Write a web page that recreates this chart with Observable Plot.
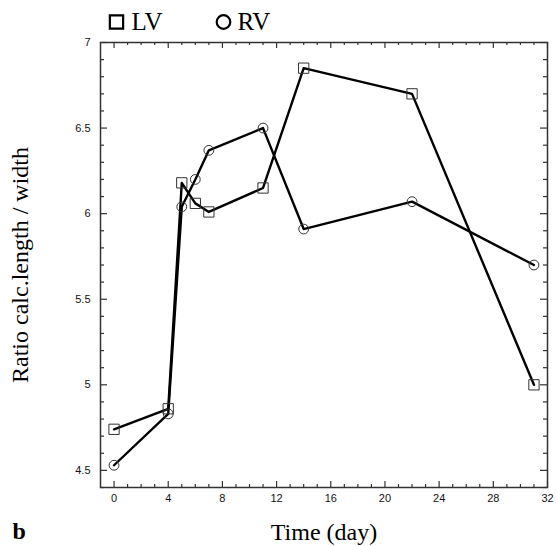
<!DOCTYPE html>
<html>
<head>
<meta charset="utf-8">
<script src="https://cdn.jsdelivr.net/npm/d3@7"></script>
<script src="https://cdn.jsdelivr.net/npm/@observablehq/plot@0.6"></script>
<style>
  html, body { margin: 0; padding: 0; background: #fff; }
  #chart svg { display: block; }
</style>
</head>
<body>
<div id="chart"></div>
<script>
// Data
const days = [0, 4, 5, 6, 7, 11, 14, 22, 31];
const lvValues = [4.74, 4.86, 6.18, 6.06, 6.01, 6.15, 6.85, 6.70, 5.00];
const rvValues = [4.53, 4.83, 6.04, 6.20, 6.37, 6.50, 5.91, 6.07, 5.70];
const seriesNames = ["LV", "RV"];
const xMajorTicks = [0, 4, 8, 12, 16, 20, 24, 28, 32];
const yMajorTicks = [4.5, 5, 5.5, 6, 6.5, 7];
const xLabel = "Time (day)";
const yLabel = "Ratio calc.length / width";
const panelLabel = "b";

const lv = days.map((d, i) => ({day: d, value: lvValues[i]}));
const rv = days.map((d, i) => ({day: d, value: rvValues[i]}));
const xMinor = d3.range(1, 32).filter(d => d % 4 !== 0);
const yMinor = d3.range(44, 70).map(d => d / 10).filter(v => Math.abs(v * 2 - Math.round(v * 2)) > 1e-6);

const W = 557, H = 546;
const mL = 100, mT = 42, mR = 10, mB = 59;
const fw = W - mL - mR, fh = H - mT - mB;
const axisColor = "#333";
const serif = "'Liberation Serif', 'Times New Roman', serif";
const sans = "'Liberation Sans', Arial, sans-serif";

const chart = Plot.plot({
  width: W,
  height: H,
  marginLeft: mL, marginTop: mT, marginRight: mR, marginBottom: mB,
  style: {fontFamily: sans, background: "white", color: "#111"},
  x: {domain: [-1, 32], label: null},
  y: {domain: [4.4, 7], label: null},
  marks: [
    // tick labels
    Plot.axisX({ticks: xMajorTicks, tickSize: 0, tickPadding: 7, fontSize: 11, label: null, tickFormat: d => String(d)}),
    Plot.axisY({ticks: yMajorTicks, tickSize: 0, tickPadding: 10, fontSize: 11, label: null, tickFormat: d => String(d)}),
    // inward ticks: bottom & top major/minor
    Plot.tickX(xMajorTicks, {x: d => d, stroke: axisColor, strokeWidth: 1.2, insetTop: fh - 6}),
    Plot.tickX(xMajorTicks, {x: d => d, stroke: axisColor, strokeWidth: 1.2, insetBottom: fh - 6}),
    Plot.tickX(xMinor, {x: d => d, stroke: axisColor, strokeWidth: 1.2, insetTop: fh - 3}),
    Plot.tickX(xMinor, {x: d => d, stroke: axisColor, strokeWidth: 1.2, insetBottom: fh - 3}),
    // inward ticks: left & right
    Plot.tickY(yMajorTicks, {y: d => d, stroke: axisColor, strokeWidth: 1.2, insetRight: fw - 7}),
    Plot.tickY(yMajorTicks, {y: d => d, stroke: axisColor, strokeWidth: 1.2, insetLeft: fw - 7}),
    Plot.tickY(yMinor, {y: d => d, stroke: axisColor, strokeWidth: 1.2, insetRight: fw - 4}),
    Plot.tickY(yMinor, {y: d => d, stroke: axisColor, strokeWidth: 1.2, insetLeft: fw - 4}),
    Plot.frame({stroke: axisColor, strokeWidth: 1.5}),
    // series lines
    Plot.line(lv, {x: "day", y: "value", stroke: "black", strokeWidth: 2.4}),
    Plot.line(rv, {x: "day", y: "value", stroke: "black", strokeWidth: 2.4}),
    Plot.dot(lv, {x: "day", y: "value", symbol: "square", r: 5.8, stroke: "#333", strokeWidth: 1, fill: "none"}),
    Plot.dot(rv, {x: "day", y: "value", symbol: "circle", r: 4.9, stroke: "#333", strokeWidth: 1, fill: "none"}),
    // legend
    Plot.dot([seriesNames[0]], {frameAnchor: "top-left", dx: 16, dy: -20.5, symbol: "square", r: 7.5, stroke: "black", strokeWidth: 2.2, fill: "none"}),
    Plot.text([seriesNames[0]], {text: d => d, frameAnchor: "top-left", dx: 31, dy: -21, textAnchor: "start", lineAnchor: "middle", fontSize: 25, fontFamily: serif, fill: "black"}),
    Plot.dot([seriesNames[1]], {frameAnchor: "top-left", dx: 123, dy: -20.5, symbol: "circle", r: 6.8, stroke: "black", strokeWidth: 2.2, fill: "none"}),
    Plot.text([seriesNames[1]], {text: d => d, frameAnchor: "top-left", dx: 137, dy: -21, textAnchor: "start", lineAnchor: "middle", fontSize: 25, fontFamily: serif, fill: "black"}),
    // axis titles
    Plot.text([xLabel], {text: d => d, frameAnchor: "bottom", dy: 45, textAnchor: "middle", lineAnchor: "middle", fontSize: 24, fontFamily: serif, fill: "black"}),
    Plot.text([yLabel], {text: d => d, frameAnchor: "left", dx: -80, dy: 0, rotate: -90, textAnchor: "middle", lineAnchor: "middle", fontSize: 24, fontFamily: serif, fill: "black"}),
    Plot.text([panelLabel], {text: d => d, frameAnchor: "bottom-left", dx: -88, dy: 44, textAnchor: "start", lineAnchor: "middle", fontSize: 24, fontWeight: "bold", fontFamily: serif, fill: "black"})
  ]
});
document.getElementById("chart").appendChild(chart);
</script>
</body>
</html>
